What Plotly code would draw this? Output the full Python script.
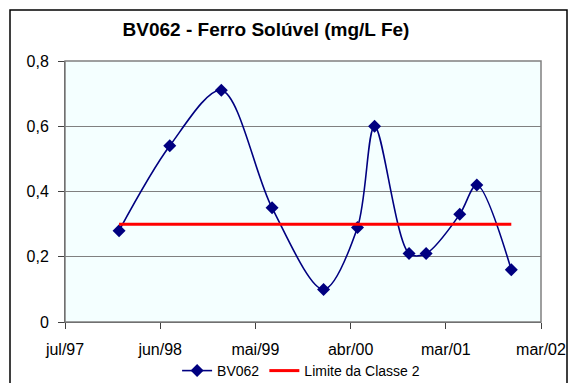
import pandas as pd
import plotly.graph_objects as go

# Data
datas = ['1998-01-15', '1998-07-15', '1999-01-15', '1999-07-15',
         '2000-01-15', '2000-05-15', '2000-07-15', '2000-11-15',
         '2001-01-15', '2001-05-15', '2001-07-15', '2001-11-15']
bv062 = [0.28, 0.54, 0.71, 0.35, 0.10, 0.29, 0.60, 0.21, 0.21, 0.33, 0.42, 0.16]
limite = [0.3] * len(datas)
rotulos_x = ['jul/97', 'jun/98', 'mai/99', 'abr/00', 'mar/01', 'mar/02']

# x axis range and evenly spaced ticks (Excel style)
x_ini, x_fim = pd.Timestamp('1997-07-06'), pd.Timestamp('2002-03-01')
ticks_x = pd.date_range(x_ini, x_fim, periods=len(rotulos_x))

fonte = 'Liberation Sans, Arial, sans-serif'

fig = go.Figure(
    layout=go.Layout(
        width=571,
        height=383,
        margin=dict(l=65, r=30, t=61, b=61, autoexpand=False),
        paper_bgcolor='white',
        plot_bgcolor='#F4FFFF',
        separators=',.',
        font=dict(family=fonte, color='black', size=16),
    ))

fig.add_trace(go.Scatter(x=datas, y=bv062, name='BV062', mode='lines+markers',
                         line=dict(color='#000080', width=1.6, shape='spline', smoothing=0.9),
                         marker=dict(symbol='diamond', size=10, color='#000080')))
fig.add_trace(go.Scatter(x=datas, y=limite, name='Limite da Classe 2', mode='lines',
                         line=dict(color='#FF0000', width=3)))

fig.update_xaxes(type='date', range=[x_ini, x_fim], automargin=False,
                 tickvals=ticks_x, ticktext=rotulos_x,
                 showgrid=False, showline=True, linecolor='#404040', linewidth=1,
                 ticks='outside', ticklen=6, tickcolor='#404040', ticklabelstandoff=7,
                 tickfont=dict(size=16), zeroline=False)
fig.update_yaxes(range=[0, 0.8], dtick=0.2, tick0=0, automargin=False,
                 showgrid=True, gridcolor='#808080', gridwidth=1,
                 showline=True, linecolor='#404040', linewidth=1,
                 ticks='outside', ticklen=6, tickcolor='#404040', ticklabelstandoff=6,
                 tickfont=dict(size=16), zeroline=False)

# plot area border and outer chart border
fig.add_shape(type='rect', xref='paper', yref='paper', x0=0, x1=1, y0=0, y1=1,
              line=dict(color='#808080', width=1.5), layer='above')
fig.add_shape(type='rect', xref='paper', yref='paper',
              x0=(10 - 65) / 476, x1=(567 - 65) / 476,
              y0=(322 - 400) / 261, y1=(322 - 10) / 261,
              line=dict(color='black', width=1.5))

fig.update_layout(
    title=dict(text='<b>BV062 - Ferro Solúvel (mg/L Fe)</b>',
               x=266 / 571, xanchor='center', y=1 - 29 / 383, yanchor='middle',
               font=dict(size=19, family=fonte)),
    legend=dict(orientation='h', x=0.496, xanchor='center', y=(322 - 371) / 261,
                yanchor='middle', font=dict(size=14), bgcolor='rgba(0,0,0,0)'),
    hovermode=False)

# page body has a default 8px margin; remove it so the figure sits at 0,0
fig.write_html('out.html', config={'displayModeBar': False},
               post_script="document.body.style.margin='0';")
